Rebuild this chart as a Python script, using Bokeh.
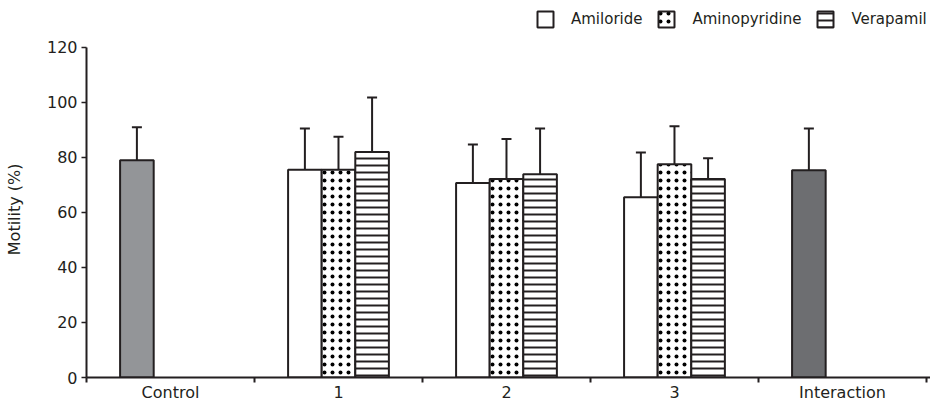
from bokeh.plotting import figure
from bokeh.models import (ColumnDataSource, FixedTicker, Whisker, TeeHead, Legend, LegendItem, Range1d)
from bokeh.embed import file_html
from bokeh.resources import INLINE

# ---- data ----
categories = ["Control", "1", "2", "3", "Interaction"]
group_index = [1, 2, 3]
control_value = [79.0]
control_err = [91.0]
interaction_value = [75.3]
interaction_err = [90.5]
amiloride = [75.5, 70.7, 65.5]
amiloride_err = [90.5, 84.7, 81.8]
aminopyridine = [75.5, 72.2, 77.5]
aminopyridine_err = [87.5, 86.7, 91.3]
verapamil = [82.0, 73.9, 72.2]
verapamil_err = [101.8, 90.5, 79.7]
series_names = ["Amiloride", "Aminopyridine", "Verapamil"]
y_ticks = [0, 20, 40, 60, 80, 100, 120]

FONT = "DejaVu Sans"
INK = "#231f20"
BW = 0.2
FRAME_H = 378
Y_TOP = 120 * FRAME_H / 331.0

p = figure(width=930, height=404, output_backend="svg", toolbar_location=None,
           x_range=Range1d(0, 5.024), y_range=Range1d(0, Y_TOP),
           min_border_left=86, min_border_right=0, min_border_top=0, min_border_bottom=26)
p.outline_line_color = None
p.grid.grid_line_color = None
p.background_fill_color = "white"

def xs(idx_list, offset):
    return [i + 0.5 + offset for i in idx_list]

renderers = {}

# control and interaction
for idx, val, err, col in [(0, control_value, control_err, "#939598"),
                           (4, interaction_value, interaction_err, "#6d6e71")]:
    src = ColumnDataSource(dict(x=xs([idx], -BW), top=val, err=err))
    p.vbar(x="x", top="top", width=BW, source=src, fill_color=col,
           line_color=INK, line_width=2)
    p.add_layout(Whisker(source=src, base="x", upper="err", lower="top", dimension="height",
                         line_color=INK, line_width=2,
                         upper_head=TeeHead(size=10, line_color=INK, line_width=2),
                         lower_head=None))

styles = [dict(),
          dict(hatch_pattern="dot", hatch_scale=8, hatch_color="black", hatch_weight=0.5),
          dict(hatch_pattern="horizontal_line", hatch_scale=7, hatch_color=INK, hatch_weight=2)]
for k, (vals, errs, name) in enumerate([(amiloride, amiloride_err, series_names[0]),
                                        (aminopyridine, aminopyridine_err, series_names[1]),
                                        (verapamil, verapamil_err, series_names[2])]):
    src = ColumnDataSource(dict(x=xs(group_index, (k - 1) * BW), top=vals, err=errs))
    r = p.vbar(x="x", top="top", width=BW, source=src, fill_color="white",
               line_color=INK, line_width=2, **styles[k])
    renderers[name] = r
    p.add_layout(Whisker(source=src, base="x", upper="err", lower="top", dimension="height",
                         line_color=INK, line_width=2,
                         upper_head=TeeHead(size=10, line_color=INK, line_width=2),
                         lower_head=None))

# axes
xa = p.xaxis[0]
xa.ticker = FixedTicker(ticks=[i + 0.5 for i in range(len(categories))],
                        minor_ticks=list(range(len(categories) + 1)))
xa.major_label_overrides = {i + 0.5: c for i, c in enumerate(categories)}
xa.major_tick_line_color = None
xa.major_tick_out = 0
xa.major_tick_in = 0
xa.minor_tick_out = 5
xa.minor_tick_in = 0
xa.minor_tick_line_color = INK
xa.minor_tick_line_width = 2
xa.axis_line_color = INK
xa.axis_line_width = 2
xa.major_label_text_font = FONT
xa.major_label_text_font_size = "16px"
xa.major_label_text_color = INK
xa.major_label_standoff = 0

ya = p.yaxis[0]
ya.ticker = FixedTicker(ticks=y_ticks)
ya.bounds = (0, 120)
ya.minor_tick_line_color = None
ya.major_tick_out = 5
ya.major_tick_in = 0
ya.major_tick_line_color = INK
ya.major_tick_line_width = 1.5
ya.axis_line_color = INK
ya.axis_line_width = 2
ya.major_label_text_font = FONT
ya.major_label_text_font_size = "16px"
ya.major_label_text_color = INK
ya.major_label_standoff = 4
ya.axis_label = "Motility (%)" + "\u00a0" * 8
ya.axis_label_text_font = FONT
ya.axis_label_text_font_style = "normal"
ya.axis_label_text_font_size = "16px"
ya.axis_label_text_color = INK
ya.axis_label_standoff = 20

legend = Legend(items=[LegendItem(label=n, renderers=[renderers[n]]) for n in series_names],
                orientation="horizontal", location=(449, 348),
                padding=0, margin=0, spacing=14, label_standoff=16,
                glyph_width=20, glyph_height=20,
                label_text_font=FONT, label_text_font_size="15px", label_text_color=INK,
                border_line_color=None, background_fill_alpha=0)
p.add_layout(legend, "center")

open("out.html", "w").write(file_html(p, INLINE))
